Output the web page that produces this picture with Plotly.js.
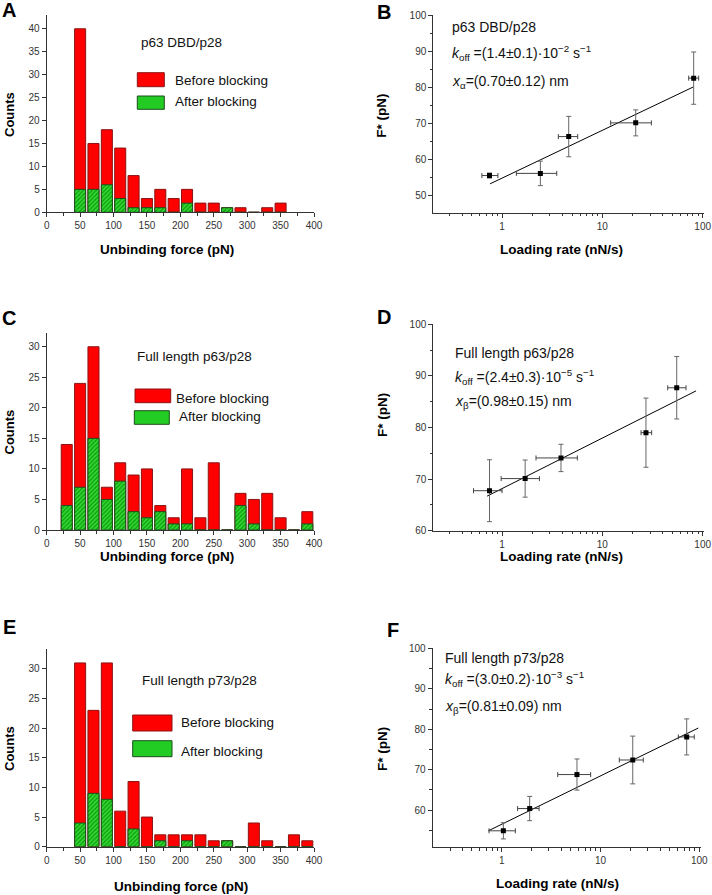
<!DOCTYPE html>
<html>
<head>
<meta charset="utf-8">
<script src="https://cdn.plot.ly/plotly-3.0.1.min.js"></script>
<style>
  body { margin: 0; background: #fff; }
  #chart { width: 712px; height: 895px; }
</style>
</head>
<body>
<div id="chart"></div>
<script>
// ---- histogram data: bin centres (pN) and counts ----
var forceA  = [50, 70, 90, 110, 130, 150, 170, 190, 210, 230, 250, 270, 290, 310, 330, 350];
var beforeA = [40, 15, 18, 14, 8, 3, 5, 3, 5, 2, 2, 1, 1, 0, 1, 2];
var afterA  = [5, 5, 6, 3, 1, 1, 1, 0, 2, 0, 0, 1, 0, 0, 0, 0];

var forceC  = [30, 50, 70, 90, 110, 130, 150, 170, 190, 210, 230, 250, 270, 290, 310, 330, 350, 370, 390];
var beforeC = [14, 24, 30, 7, 11, 9, 10, 4, 2, 10, 2, 11, 0, 6, 5, 6, 2, 0, 3];
var afterC  = [4, 7, 15, 5, 8, 3, 2, 3, 1, 1, 0, 0, 0, 4, 1, 0, 0, 0, 1];

var forceE  = [50, 70, 90, 110, 130, 150, 170, 190, 210, 230, 250, 270, 290, 310, 330, 350, 370, 390];
var beforeE = [31, 23, 31, 6, 11, 5, 2, 2, 2, 2, 1, 1, 0, 4, 1, 0, 2, 1];
var afterE  = [4, 9, 8, 0, 3, 0, 1, 0, 1, 0, 0, 1, 0, 0, 0, 0, 0, 0];

// ---- dynamic force spectroscopy: loading rate (nN/s) vs F* (pN) ----
var rateB   = [0.75, 2.41, 4.62, 21.5, 81.3];
var rateLoB = [0.63, 1.39, 3.64, 12.1, 72.5];
var rateHiB = [0.91, 3.51, 5.68, 30.8, 91.2];
var forceB  = [55.5, 56.1, 66.3, 70.1, 82.5];
var errB    = [0.7, 3.4, 5.6, 3.6, 7.25];
var fitRateB = [0.76, 81.3];
var fitForceB = [53.2, 80.1];

var rateD   = [0.75, 1.70, 3.87, 27.2, 55.1];
var rateLoD = [0.52, 0.98, 2.18, 24.3, 44.8];
var rateHiD = [1.0, 2.36, 5.63, 31.0, 68.2];
var forceD  = [67.75, 70.1, 74.1, 79.0, 87.7];
var errD    = [6.0, 3.6, 2.65, 6.7, 6.05];
var fitRateD = [0.71, 85.9];
var fitForceD = [66.7, 87.1];

var rateF   = [1.04, 1.92, 5.78, 21.2, 74.5];
var rateLoF = [0.745, 1.45, 3.69, 15.5, 61.3];
var rateHiF = [1.375, 2.39, 7.95, 27.1, 88.9];
var forceF  = [54.9, 60.4, 68.8, 72.4, 78.1];
var errF    = [2.0, 3.0, 3.85, 5.9, 4.45];
var fitRateF = [0.733, 97.7];
var fitForceF = [54.9, 80.3];

var W = 712, H = 895;
function px(x) { return x / W; }
function py(y) { return 1 - y / H; }

var FONT = 'Liberation Sans, Arial, sans-serif';
var AX = '#333';

function histTraces(centres, before, after, xa, ya) {
  return [
    { type: 'bar', x: centres, y: before, width: 16.5, xaxis: xa, yaxis: ya,
      name: 'Before blocking', showlegend: false,
      marker: { color: '#ff0000', line: { color: '#8a1414', width: 1 } } },
    { type: 'bar', x: centres, y: after, width: 16.5, xaxis: xa, yaxis: ya,
      name: 'After blocking', showlegend: false,
      marker: { color: '#22cc22',
        pattern: { shape: '/', fgcolor: '#0d8f0d', bgcolor: '#2fd82f', size: 3, solidity: 0.35 },
        line: { color: '#1d4d1d', width: 1 } } }
  ];
}

function rateTraces(rate, lo, hi, force, err, fitR, fitF, xa, ya) {
  var plus = hi.map(function (h, i) { return h - rate[i]; });
  var minus = lo.map(function (l, i) { return rate[i] - l; });
  return [
    { type: 'scatter', mode: 'lines', x: fitR, y: fitF, xaxis: xa, yaxis: ya,
      showlegend: false, line: { color: '#000', width: 1 } },
    { type: 'scatter', mode: 'markers', x: rate, y: force, xaxis: xa, yaxis: ya,
      showlegend: false,
      marker: { symbol: 'square', size: 5, color: '#000' },
      error_x: { type: 'data', symmetric: false, array: plus, arrayminus: minus,
        color: '#444', thickness: 1, width: 2.5 },
      error_y: { type: 'data', array: err, color: '#666', thickness: 1, width: 2.5 } }
  ];
}

function baseAxis(extra) {
  var a = {
    showline: true, linecolor: AX, linewidth: 1, mirror: false,
    showgrid: false, zeroline: false,
    ticks: 'outside', ticklen: 4, tickwidth: 1, tickcolor: AX,
    tickfont: { family: FONT, size: 10, color: AX }
  };
  for (var k in extra) a[k] = extra[k];
  return a;
}

function histX(x0, x1, anchor) {
  return baseAxis({ domain: [px(x0), px(x1)], anchor: anchor, range: [0, 400],
    tick0: 0, dtick: 50,
    minor: { dtick: 25, ticks: 'outside', ticklen: 3, tickcolor: AX, showgrid: false } });
}
function histY(y0, y1, top, anchor) {
  return baseAxis({ domain: [py(y1), py(y0)], anchor: anchor, range: [0, top],
    tick0: 0, dtick: 5 });
}
var logMinor = [0.2, 0.3, 0.4, 0.5, 0.6, 0.7, 0.8, 0.9, 2, 3, 4, 5, 6, 7, 8, 9, 20, 30, 40, 50, 60, 70, 80, 90];
function rateX(x0, x1, r0, r1, anchor) {
  return baseAxis({ type: 'log', domain: [px(x0), px(x1)], anchor: anchor, range: [r0, r1],
    dtick: 1,
    minor: { tickvals: logMinor, ticks: 'outside', ticklen: 2.5, tickcolor: AX, showgrid: false } });
}
function rateY(y0, y1, r0, r1, anchor) {
  return baseAxis({ domain: [py(y1), py(y0)], anchor: anchor, range: [r0, r1],
    tick0: 0, dtick: 10,
    minor: { dtick: 5, ticks: 'outside', ticklen: 2.5, tickcolor: AX, showgrid: false } });
}

var data = []
  .concat(histTraces(forceA, beforeA, afterA, 'x', 'y'))
  .concat(rateTraces(rateB, rateLoB, rateHiB, forceB, errB, fitRateB, fitForceB, 'x2', 'y2'))
  .concat(histTraces(forceC, beforeC, afterC, 'x3', 'y3'))
  .concat(rateTraces(rateD, rateLoD, rateHiD, forceD, errD, fitRateD, fitForceD, 'x4', 'y4'))
  .concat(histTraces(forceE, beforeE, afterE, 'x5', 'y5'))
  .concat(rateTraces(rateF, rateLoF, rateHiF, forceF, errF, fitRateF, fitForceF, 'x6', 'y6'));

function txt(text, x, y, size, opts) {
  var a = { text: text, x: px(x), y: py(y), xref: 'paper', yref: 'paper',
    xanchor: 'left', yanchor: 'middle', showarrow: false,
    font: { family: FONT, size: size, color: '#111' } };
  for (var k in (opts || {})) a[k] = opts[k];
  return a;
}
function bold(text, x, y, size, angle) {
  return txt('<b>' + text + '</b>', x, y, size,
    { xanchor: 'center', textangle: angle || 0, font: { family: FONT, size: size, color: '#000' } });
}

var annotations = [
  // panel letters
  bold('A', 9, 10, 20), bold('B', 384, 12, 20),
  bold('C', 9, 318, 20), bold('D', 384, 317, 20),
  bold('E', 9, 627, 20), bold('F', 393, 630, 20),
  // axis titles
  bold('Unbinding force (pN)', 166.7, 249, 13.5),
  bold('Unbinding force (pN)', 166.7, 556, 13.5),
  bold('Unbinding force (pN)', 180.8, 886, 13.5),
  bold('Loading rate (nN/s)', 561, 249, 13.5),
  bold('Loading rate (nN/s)', 561, 556, 13.5),
  bold('Loading rate (nN/s)', 557.3, 883, 13.5),
  bold('Counts', 9, 115, 13, -90),
  bold('Counts', 9, 432.5, 13, -90),
  bold('Counts', 9, 749, 13, -90),
  bold('F* (pN)', 382, 115.8, 13.5, -90),
  bold('F* (pN)', 382, 415, 13.5, -90),
  bold('F* (pN)', 382, 749, 13.5, -90),
  // histogram labels and legends
  txt('p63 DBD/p28', 139.3, 42.7, 13.5),
  txt('Before blocking', 172.7, 80, 13.5),
  txt('After blocking', 172.7, 101.7, 13.5),
  txt('Full length p63/p28', 135, 356.7, 13.5),
  txt('Before blocking', 174.3, 398.3, 13.5),
  txt('After blocking', 176.7, 416.7, 13.5),
  txt('Full length p73/p28', 140, 680, 13.5),
  txt('Before blocking', 179.3, 722.7, 13.5),
  txt('After blocking', 179.3, 751, 13.5),
  // fit parameters
  txt('p63 DBD/p28', 450.3, 26.7, 14),
  txt('<i>k</i><sub>off</sub> =(1.4±0.1)·10<sup>−2</sup> s<sup>−1</sup>', 450.3, 53.3, 14),
  txt('<i>x</i><sub>α</sub>=(0.70±0.12) nm', 450.3, 81.7, 14),
  txt('Full length p63/p28', 452.7, 353.3, 14),
  txt('<i>k</i><sub>off</sub> =(2.4±0.3)·10<sup>−5</sup> s<sup>−1</sup>', 452.7, 376.7, 14),
  txt('<i>x</i><sub>β</sub>=(0.98±0.15) nm', 452.7, 401.7, 14),
  txt('Full length p73/p28', 443.3, 658.3, 14),
  txt('<i>k</i><sub>off</sub> =(3.0±0.2)·10<sup>−3</sup> s<sup>−1</sup>', 443.3, 679.3, 14),
  txt('<i>x</i><sub>β</sub>=(0.81±0.09) nm', 443.3, 706.7, 14)
];

function box(x0, x1, y0, y1, fill, edge) {
  return { type: 'rect', xref: 'paper', yref: 'paper',
    x0: px(x0), x1: px(x1), y0: py(y1), y1: py(y0),
    fillcolor: fill, line: { color: edge, width: 1 } };
}
var shapes = [
  box(137.3, 164.3, 72.7, 86.7, '#ff0000', '#8a1414'),
  box(137.3, 164.3, 96, 109.3, '#22cc22', '#1d4d1d'),
  box(135, 170.7, 389, 402.7, '#ff0000', '#8a1414'),
  box(134.3, 169.3, 410.7, 424.3, '#22cc22', '#1d4d1d'),
  box(132.7, 172, 715, 731, '#ff0000', '#8a1414'),
  box(132.7, 172, 740.7, 756.7, '#22cc22', '#1d4d1d')
];

var layout = {
  width: W, height: H,
  margin: { l: 0, r: 0, t: 0, b: 0 },
  paper_bgcolor: '#fff', plot_bgcolor: 'rgba(0,0,0,0)',
  font: { family: FONT },
  barmode: 'overlay',
  showlegend: false,
  xaxis:  histX(46.7, 314, 'y'),
  yaxis:  histY(15, 212.3, 43, 'x'),
  xaxis2: rateX(433.3, 704.3, -0.685, 2.016, 'y2'),
  yaxis2: rateY(15, 212.7, 45.2, 100, 'x2'),
  xaxis3: histX(46.7, 314, 'y3'),
  yaxis3: histY(332.7, 530, 32.3, 'x3'),
  xaxis4: rateX(433.3, 704.3, -0.685, 2.016, 'y4'),
  yaxis4: rateY(324.3, 530.7, 60, 100, 'x4'),
  xaxis5: histX(46.7, 314, 'y5'),
  yaxis5: histY(649.3, 846.7, 33.3, 'x5'),
  xaxis6: rateX(432.7, 701, -0.698, 2.017, 'y6'),
  yaxis6: rateY(648.3, 847, 50.9, 100, 'x6'),
  annotations: annotations,
  shapes: shapes
};

Plotly.newPlot('chart', data, layout, { displayModeBar: false, staticPlot: true });
</script>
</body>
</html>
